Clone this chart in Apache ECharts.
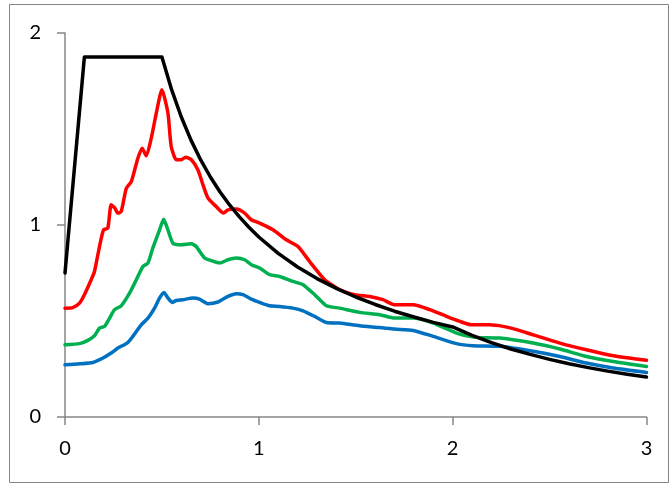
<!DOCTYPE html>
<html>
<head>
<meta charset="utf-8">
<script src="https://cdn.jsdelivr.net/npm/echarts@6/dist/echarts.min.js"></script>
<style>html,body{margin:0;padding:0;background:#fff}#c{width:672px;height:486px}</style>
</head>
<body>
<div id="c"></div>
<script>
var xTicks = [0, 1, 2, 3];
var yTicks = [0, 1, 2];

var blackPts = [[0,0.75],[0.1,1.875],[0.5,1.875],[0.55,1.705],[0.6,1.5625],[0.65,1.442],[0.7,1.339],[0.75,1.25],[0.8,1.172],[0.85,1.103],[0.9,1.042],[0.95,0.987],[1.0,0.9375],[1.1,0.852],[1.2,0.781],[1.3,0.721],[1.4,0.670],[1.5,0.625],[1.6,0.586],[1.7,0.551],[1.8,0.521],[1.9,0.493],[2.0,0.469],[2.1,0.425],[2.2,0.387],[2.3,0.354],[2.4,0.326],[2.5,0.300],[2.6,0.277],[2.7,0.257],[2.8,0.239],[2.9,0.223],[3.0,0.208]];

var redPts = [[0,0.567],[0.04,0.57],[0.075,0.593],[0.10,0.637],[0.135,0.715],[0.152,0.758],[0.178,0.888],[0.199,0.975],[0.221,0.984],[0.238,1.105],[0.256,1.09],[0.273,1.062],[0.29,1.07],[0.316,1.19],[0.342,1.226],[0.376,1.348],[0.398,1.40],[0.419,1.36],[0.445,1.452],[0.471,1.583],[0.50,1.704],[0.531,1.583],[0.548,1.409],[0.574,1.34],[0.60,1.34],[0.622,1.353],[0.652,1.34],[0.686,1.287],[0.712,1.209],[0.738,1.14],[0.78,1.096],[0.818,1.062],[0.841,1.079],[0.884,1.083],[0.927,1.062],[0.961,1.027],[1.004,1.01],[1.073,0.975],[1.142,0.923],[1.202,0.888],[1.262,0.81],[1.34,0.715],[1.417,0.663],[1.495,0.637],[1.572,0.628],[1.64,0.611],[1.70,0.585],[1.796,0.585],[1.882,0.559],[1.968,0.524],[2.037,0.498],[2.097,0.48],[2.19,0.48],[2.26,0.472],[2.33,0.455],[2.415,0.428],[2.553,0.385],[2.69,0.35],[2.828,0.319],[3.0,0.295]];

var greenPts = [[0,0.376],[0.075,0.382],[0.118,0.399],[0.152,0.423],[0.178,0.463],[0.204,0.472],[0.23,0.515],[0.256,0.559],[0.29,0.579],[0.333,0.645],[0.368,0.715],[0.402,0.784],[0.428,0.802],[0.453,0.88],[0.488,0.975],[0.509,1.03],[0.531,0.975],[0.557,0.905],[0.60,0.897],[0.652,0.902],[0.677,0.888],[0.72,0.828],[0.755,0.814],[0.798,0.802],[0.841,0.819],[0.884,0.828],[0.927,0.819],[0.961,0.793],[1.004,0.776],[1.056,0.741],[1.107,0.732],[1.176,0.706],[1.228,0.689],[1.288,0.637],[1.349,0.579],[1.417,0.567],[1.52,0.545],[1.624,0.533],[1.70,0.515],[1.796,0.515],[1.9,0.489],[2.02,0.437],[2.106,0.416],[2.243,0.411],[2.415,0.385],[2.553,0.354],[2.69,0.315],[2.828,0.289],[3.0,0.263]];

var bluePts = [[0,0.272],[0.075,0.277],[0.144,0.284],[0.196,0.307],[0.238,0.333],[0.273,0.359],[0.324,0.388],[0.35,0.42],[0.393,0.48],[0.428,0.515],[0.462,0.567],[0.488,0.62],[0.51,0.649],[0.531,0.62],[0.553,0.597],[0.574,0.607],[0.608,0.611],[0.66,0.62],[0.694,0.614],[0.737,0.59],[0.789,0.599],[0.841,0.628],[0.884,0.642],[0.918,0.637],[0.961,0.614],[1.004,0.597],[1.056,0.579],[1.107,0.576],[1.176,0.567],[1.228,0.553],[1.288,0.524],[1.349,0.492],[1.417,0.489],[1.52,0.475],[1.624,0.466],[1.70,0.458],[1.796,0.451],[1.9,0.42],[2.02,0.382],[2.106,0.371],[2.243,0.368],[2.415,0.342],[2.553,0.315],[2.69,0.281],[2.828,0.255],[3.0,0.232]];

var chart = echarts.init(document.getElementById('c'), null, {renderer: 'canvas'});
var axisColor = '#868686';
var fontFam = 'Lato, "Open Sans", sans-serif';
function mkSeries(name, pts, color, z) {
  return {
    name: name, type: 'line', data: pts, showSymbol: false, symbol: 'none',
    smooth: 0.2, z: z,
    lineStyle: {color: color, width: 3.5, join: 'round', cap: 'round'},
    animation: false
  };
}
chart.setOption({
  animation: false,
  backgroundColor: '#fff',
  graphic: [{
    type: 'rect', z: -10,
    shape: {x: 9.5, y: 4.5, width: 659, height: 478},
    style: {fill: 'none', stroke: axisColor, lineWidth: 1}
  }],
  grid: {left: 65, right: 25.5, top: 33, bottom: 69, containLabel: false},
  xAxis: {
    type: 'value', min: xTicks[0], max: xTicks[xTicks.length - 1], interval: 1,
    axisLine: {show: true, lineStyle: {color: axisColor, width: 1.5}},
    axisTick: {show: true, inside: false, length: 8, lineStyle: {color: axisColor, width: 1.5}},
    splitLine: {show: false},
    axisLabel: {color: '#000', fontSize: 20, fontFamily: fontFam, margin: 22}
  },
  yAxis: {
    type: 'value', min: yTicks[0], max: yTicks[yTicks.length - 1], interval: 1,
    axisLine: {show: true, lineStyle: {color: axisColor, width: 1.5}},
    axisTick: {show: true, inside: false, length: 8, lineStyle: {color: axisColor, width: 1.5}},
    splitLine: {show: false},
    axisLabel: {color: '#000', fontSize: 20, fontFamily: fontFam, margin: 24}
  },
  series: [
    mkSeries('blue', bluePts, '#0070C0', 2),
    mkSeries('green', greenPts, '#00B050', 3),
    mkSeries('red', redPts, '#FF0000', 4),
    Object.assign(mkSeries('black', blackPts, '#000000', 5), {smooth: false})
  ]
});
</script>
</body>
</html>
